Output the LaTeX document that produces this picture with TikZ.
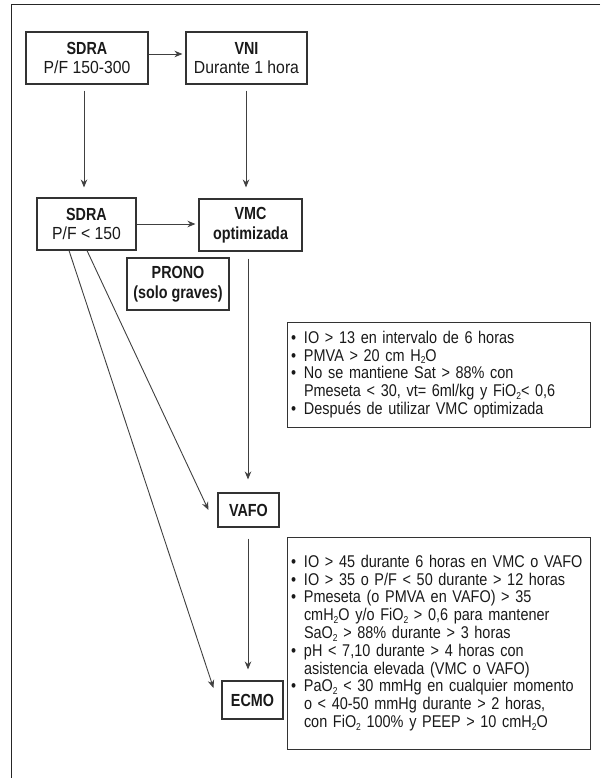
\documentclass[tikz,border=0pt]{standalone}
\usepackage{fontspec}
\setmainfont{Liberation Sans}[FakeStretch=0.9]
\newfontfamily\hdfont{Liberation Sans}[FakeStretch=0.82]
\newfontfamily\crfont{Liberation Sans}[FakeStretch=0.85]
\usetikzlibrary{arrows.meta}

% bold condensed heading, lowered subscript two, bullet and continuation lines
\newcommand\bld[1]{{\hdfont\bfseries #1}}
\newcommand\subtwo{\raisebox{-2.5pt}{\fontsize{10}{10}\selectfont 2}}
\newcommand\itm[1]{\mbox{\makebox[13pt][l]{\textbullet}#1}}
\newcommand\cnt[1]{\mbox{\hspace*{13pt}#1}}

\begin{document}
\begin{tikzpicture}[x=1pt,y=-1pt,
  box/.style={draw=black!80, line width=1.1pt, inner sep=0pt, align=center,
    font=\fontsize{17.5}{19.5}\selectfont, text=black!90},
  crit/.style={draw=black!80, line width=1pt, inner xsep=4pt, inner ysep=0pt,
    text width=295pt, align=left, font=\crfont\fontsize{17}{17.8}\selectfont, text=black!90},
  arr/.style={draw=black!75, line width=0.9pt, -{Stealth[length=8pt,width=6.5pt]}}]

\useasboundingbox (0,0) rectangle (600,778);

% outer frame (top and left edges)
\draw[line width=1.3pt, black!85] (600,4.5) -- (11.5,4.5) -- (11.5,778);

% stages
\node[box, minimum width=122pt, minimum height=52pt] (sdra1) at (87,58)
  {\bld{SDRA}\\P/F 150-300};
\node[box, minimum width=121pt, minimum height=52pt] (vni) at (246.5,58)
  {\bld{VNI}\\Durante 1 hora};
\node[box, minimum width=99pt, minimum height=52pt] (sdra2) at (86.5,224)
  {\bld{SDRA}\\P/F < 150};
\node[box, minimum width=103pt, minimum height=52pt] (vmc) at (250.5,225)
  {\bld{VMC}\\\bld{optimizada}};
\node[box, minimum width=102pt, minimum height=52pt] (prono) at (178,284)
  {\bld{PRONO}\\\bld{(solo graves)}};
\node[box, minimum width=61pt, minimum height=34pt] (vafo) at (248.5,510)
  {\bld{VAFO}};
\node[box, minimum width=61pt, minimum height=38pt] (ecmo) at (252.5,700)
  {\bld{ECMO}};

% criteria
\node[crit, minimum height=105pt] (crit1) at (438.5,374.5) {%
  \itm{IO > 13 en intervalo de 6 horas}\\
  \itm{PMVA > 20 cm H\subtwo O}\\
  \itm{No se mantiene Sat > 88\% con}\\
  \cnt{Pmeseta < 30, vt= 6ml/kg y FiO\subtwo< 0,6}\\
  \itm{Después de utilizar VMC optimizada}};
\node[crit, minimum height=212pt] (crit2) at (438.5,643) {%
  \itm{IO > 45 durante 6 horas en VMC o VAFO}\\
  \itm{IO > 35 o P/F < 50 durante > 12 horas}\\
  \itm{Pmeseta (o PMVA en VAFO) > 35}\\
  \cnt{cmH\subtwo O y/o FiO\subtwo\ > 0,6 para mantener}\\
  \cnt{SaO\subtwo\ > 88\% durante > 3 horas}\\
  \itm{pH < 7,10 durante > 4 horas con}\\
  \cnt{asistencia elevada (VMC o VAFO)}\\
  \itm{PaO\subtwo\ < 30 mmHg en cualquier momento}\\
  \cnt{o < 40-50 mmHg durante > 2 horas,}\\
  \cnt{con FiO\subtwo\ 100\% y PEEP > 10 cmH\subtwo O}};

% connectors
\draw[arr, shorten >=3pt] ([yshift=4pt]sdra1.east) -- ([yshift=4pt]vni.west);
\draw[arr, shorten <=6pt, shorten >=10pt] ([xshift=-3pt]sdra1.south) -- ([xshift=-2.5pt]sdra2.north);
\draw[arr, shorten <=6pt, shorten >=11pt] ([xshift=-0.5pt]vni.south) -- ([xshift=-4.5pt]vmc.north);
\draw[arr, shorten >=3pt] (sdra2.east) -- (sdra2.east -| vmc.west);
\draw[arr, shorten <=7pt, shorten >=13pt] ([xshift=-2.5pt]vmc.south) -- ([xshift=-0.5pt]vafo.north);
\draw[arr, shorten <=11pt, shorten >=11pt] ([xshift=-0.5pt]vafo.south) -- ([xshift=-4.5pt]ecmo.north);
\draw[arr] ([xshift=0.5pt]sdra2.south) -- ([xshift=-9pt]vafo.west);
\draw[arr] ([xshift=-17.5pt]sdra2.south) -- ([xshift=-8pt,yshift=12pt]ecmo.west);
\end{tikzpicture}
\end{document}
